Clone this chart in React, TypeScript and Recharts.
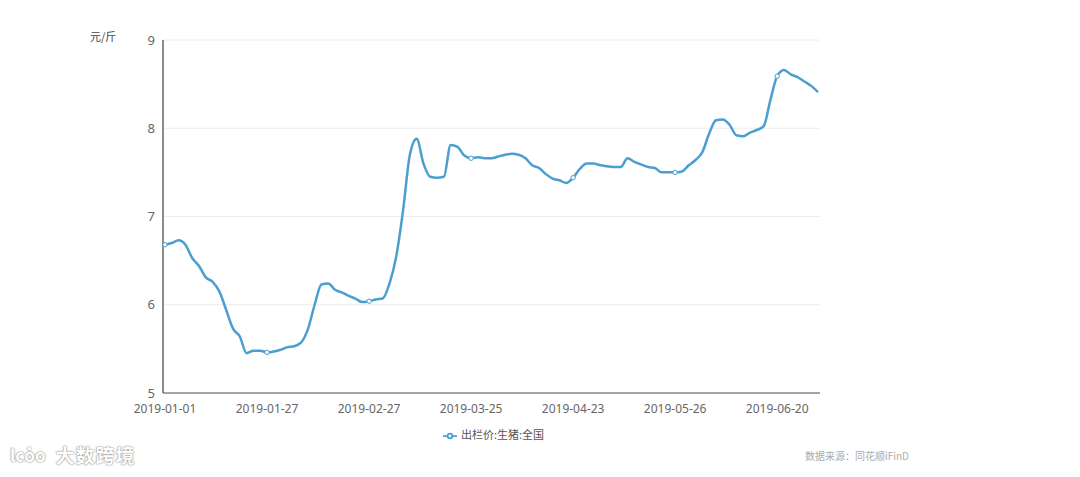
import React from "react";
import { LineChart, Line, XAxis, YAxis, CartesianGrid, Legend } from "recharts";

const tickLabels = ["2019-01-01", "2019-01-27", "2019-02-27", "2019-03-25", "2019-04-23", "2019-05-26", "2019-06-20"];
const tickStep = 15;
const priceValues = [
  6.68, 6.70, 6.73, 6.68, 6.53, 6.44, 6.31, 6.26, 6.15, 5.94,
  5.73, 5.64, 5.45, 5.48, 5.48, 5.46, 5.47, 5.49, 5.52, 5.53,
  5.57, 5.72, 6.00, 6.23, 6.24, 6.17, 6.14, 6.10, 6.07, 6.03,
  6.04, 6.06, 6.07, 6.24, 6.55, 7.07, 7.70, 7.88, 7.60, 7.45,
  7.44, 7.45, 7.81, 7.79, 7.69, 7.66, 7.67, 7.66, 7.66, 7.68,
  7.70, 7.71, 7.70, 7.66, 7.58, 7.55, 7.48, 7.43, 7.41, 7.38,
  7.44, 7.54, 7.60, 7.60, 7.58, 7.57, 7.56, 7.56, 7.66, 7.62,
  7.59, 7.56, 7.55, 7.50, 7.50, 7.50, 7.51, 7.58, 7.64, 7.73,
  7.94, 8.09, 8.10, 8.04, 7.92, 7.91, 7.95, 7.98, 8.02, 8.32,
  8.59, 8.66, 8.61, 8.58, 8.53, 8.48, 8.41,
];
const yTicks = [5, 6, 7, 8, 9];
const seriesName = "出栏价:生猪:全国";
const unitLabel = "元/斤";
const sourceLabel = "数据来源：同花顺iFinD";
const watermark = "大数跨境";

const data = priceValues.map((v, i) => ({ i, value: v }));
const xTicks = tickLabels.map((_, k) => k * tickStep);

const LINE_COLOR = "#4b9fd0";
const FONT = "'Noto Sans', 'Noto Sans CJK SC', sans-serif";

const TickDot = (props: any) => {
  const { cx, cy, index } = props;
  if (index % tickStep !== 0) return <g key={"d" + index} />;
  return <circle key={"d" + index} cx={cx} cy={cy} r={2.2} fill="#fff" stroke={LINE_COLOR} strokeWidth={1} />;
};

export default function App() {
  return (
    <div style={{ position: "absolute", left: 0, top: 0, width: 1080, height: 477, background: "#fff", fontFamily: FONT }}>
      <LineChart
        width={1080}
        height={477}
        data={data}
        margin={{ top: 40, right: 260, left: 123, bottom: 37 }}
      >
        <CartesianGrid horizontal={true} vertical={false} stroke="#ececec" />
        <XAxis
          dataKey="i"
          type="number"
          domain={[0, priceValues.length - 1]}
          ticks={xTicks}
          tickFormatter={(v: number) => tickLabels[Math.round(v / tickStep)]}
          height={30}
          padding={{ left: 2, right: 2 }}
          tickLine={false}
          axisLine={{ stroke: "#888", strokeWidth: 1.5 }}
          tick={{ fill: "#666", fontSize: 12, fontFamily: FONT }}
          tickMargin={5}
          interval={0}
        />
        <YAxis
          domain={[5, 9]}
          ticks={yTicks}
          width={40}
          tickLine={false}
          axisLine={{ stroke: "#666", strokeWidth: 1.5 }}
          tick={{ fill: "#666", fontSize: 13, fontFamily: FONT }}
          interval={0}
        />
        <Legend
          verticalAlign="bottom"
          align="left"
          iconType="line"
          iconSize={14}
          wrapperStyle={{ top: 426, left: 443, width: 140, fontSize: 11, fontFamily: "'Noto Sans CJK SC', sans-serif" }}
          formatter={(value: string) => <span style={{ color: "#555" }}>{value}</span>}
        />
        <Line
          type="monotone"
          dataKey="value"
          name={seriesName}
          stroke={LINE_COLOR}
          strokeWidth={2.5}
          dot={TickDot}
          activeDot={false}
          isAnimationActive={false}
        />
      </LineChart>
      <div style={{ position: "absolute", left: 90, top: 28, fontSize: 11, color: "#444", fontFamily: "'Noto Sans CJK SC', sans-serif" }}>
        {unitLabel}
      </div>
      <div style={{ position: "absolute", left: 805, top: 448, fontSize: 10, color: "#aaa", fontFamily: "'Noto Sans CJK SC', sans-serif" }}>
        {sourceLabel}
      </div>
      <div style={{ position: "absolute", left: 10, top: 441, display: "flex", alignItems: "center", color: "#fff", textShadow: "0 0 2px #888, 0 0 1px #888", fontFamily: "'Noto Sans CJK SC', sans-serif" }}>
        <span style={{ fontSize: 17, fontWeight: 700, marginRight: 10 }}>lċoo</span>
        <span style={{ fontSize: 19, fontWeight: 700, letterSpacing: 1 }}>{watermark}</span>
      </div>
    </div>
  );
}
